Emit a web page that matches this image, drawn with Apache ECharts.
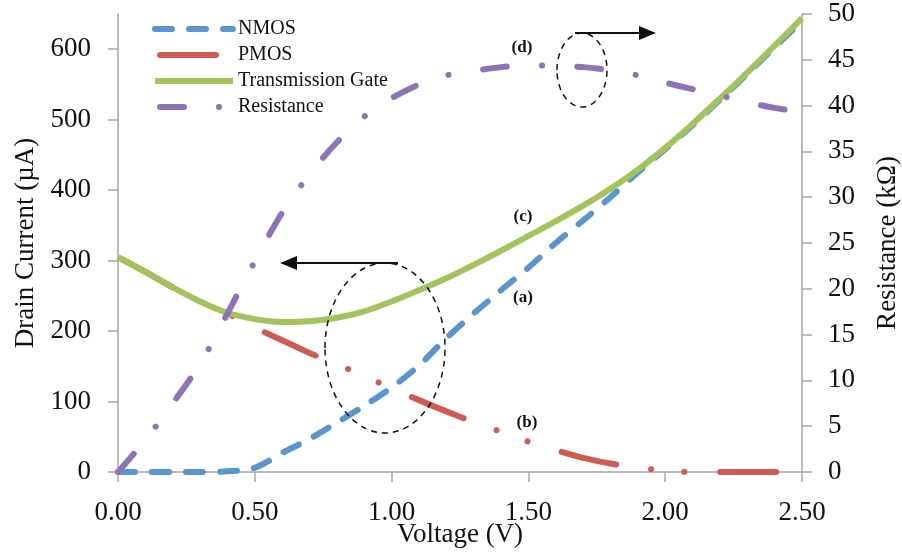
<!DOCTYPE html>
<html>
<head>
<meta charset="utf-8">
<script src="https://cdn.jsdelivr.net/npm/echarts@6/dist/echarts.min.js"></script>
<style>
  html, body { margin: 0; padding: 0; background: #fff; }
  #chart { width: 902px; height: 554px; }
</style>
</head>
<body>
<div id="chart"></div>
<script>
// voltage sweep (V)
var voltage = [0.0, 0.1, 0.2, 0.3, 0.4, 0.5, 0.6, 0.7, 0.8, 0.9, 1.0, 1.1, 1.2,
               1.3, 1.4, 1.5, 1.6, 1.7, 1.8, 1.9, 2.0, 2.1, 2.2, 2.3, 2.4, 2.5];

// drain currents (uA)
var nmos = [0, 0, 0, 0, 1, 6, 27, 47, 70, 94, 120, 151, 190,
            225, 258, 290, 325, 357, 390, 425, 458, 492, 528, 565, 603, 640];
var pmos = [305, 284, 262, 242, 225, 205, 187, 169, 153, 136, 119, 102, 86,
            71, 57, 43, 31, 20, 12, 6, 2, 0, 0, 0, 0, 0];
var tgate = [305, 284, 262, 242, 226, 217, 213, 214, 219, 228, 242, 258, 275,
             294, 314, 335, 356, 378, 402, 429, 460, 494, 530, 567, 605, 644];

// resistance (kOhm)
var resistance = [0, 3.5, 7.5, 11.8, 17.3, 23, 28.3, 32.5, 36, 38.8, 40.8, 42.3, 43.3,
                  43.8, 44.2, 44.4, 44.35, 44.2, 43.85, 43.3, 42.5, 41.8, 41.1, 40.35, 39.75, 39.3];

var currentTicks = [0, 100, 200, 300, 400, 500, 600];

function pairs(ys) {
  return voltage.map(function (v, i) { return [v, ys[i]]; });
}

var serif = 'Liberation Serif';
var axisGray = '#a6a6a6';
var labelFont = 'bold 17px "Liberation Serif"';

var chart = echarts.init(document.getElementById('chart'));

var option = {
  animation: false,
  grid: { left: 118, right: 100, top: 14, bottom: 82, outerBoundsMode: 'none' },
  legend: {
    orient: 'vertical',
    left: 147,
    top: 14,
    itemWidth: 78,
    itemHeight: 14,
    itemGap: 6,
    itemStyle: { opacity: 0 },
    lineStyle: { width: 6 },
    data: ['NMOS', 'PMOS', 'Transmission Gate', 'Resistance'],
    textStyle: { fontFamily: serif, fontSize: 20, color: '#111' }
  },
  xAxis: {
    type: 'value',
    min: 0,
    max: 2.5,
    interval: 0.5,
    name: 'Voltage (V)',
    nameLocation: 'middle',
    nameGap: 49,
    nameMoveOverlap: false,
    nameTextStyle: { fontFamily: serif, fontSize: 27, color: '#111' },
    axisLine: { lineStyle: { color: axisGray, width: 1.5 } },
    axisTick: { length: 10, lineStyle: { color: axisGray, width: 1.5 } },
    axisLabel: {
      fontFamily: serif, fontSize: 27, color: '#111', margin: 27,
      formatter: function (v) { return v.toFixed(2); }
    },
    splitLine: { show: false }
  },
  yAxis: [
    {
      type: 'value',
      min: 0,
      max: 650,
      name: 'Drain Current (\u00b5A)',
      nameLocation: 'middle',
      nameRotate: 90,
      nameGap: 78,
      nameTextStyle: { fontFamily: serif, fontSize: 27, color: '#111' },
      axisLine: { show: true, lineStyle: { color: axisGray, width: 1.5 } },
      axisTick: { show: true, length: 10, customValues: currentTicks, lineStyle: { color: axisGray, width: 1.5 } },
      axisLabel: { fontFamily: serif, fontSize: 27, color: '#111', margin: 27, customValues: currentTicks },
      splitLine: { show: false }
    },
    {
      type: 'value',
      min: 0,
      max: 50,
      interval: 5,
      position: 'right',
      name: 'Resistance (k\u03a9)',
      nameLocation: 'middle',
      nameRotate: 90,
      nameGap: 72,
      nameTextStyle: { fontFamily: serif, fontSize: 27, color: '#111' },
      axisLine: { show: true, lineStyle: { color: axisGray, width: 1.5 } },
      axisTick: { show: true, length: 10, lineStyle: { color: axisGray, width: 1.5 } },
      axisLabel: { fontFamily: serif, fontSize: 27, color: '#111', margin: 26 },
      splitLine: { show: false }
    }
  ],
  series: [
    {
      name: 'NMOS',
      type: 'line',
      yAxisIndex: 0,
      data: pairs(nmos),
      smooth: 0.3,
      symbol: 'none',
      color: '#5a95cf',
      lineStyle: { color: '#5a95cf', width: 6, type: [17, 17], cap: 'round' }
    },
    {
      name: 'PMOS',
      type: 'line',
      yAxisIndex: 0,
      data: pairs(pmos),
      smooth: 0.3,
      symbol: 'none',
      color: '#cf5b55',
      lineStyle: { color: '#cf5b55', width: 6, type: [56, 35, 0.1, 33, 0.1, 36], dashOffset: -5, cap: 'round' }
    },
    {
      name: 'Transmission Gate',
      type: 'line',
      yAxisIndex: 0,
      data: pairs(tgate),
      smooth: 0.3,
      symbol: 'none',
      color: '#a3c35c',
      lineStyle: { color: '#a3c35c', width: 6 }
    },
    {
      name: 'Resistance',
      type: 'line',
      yAxisIndex: 1,
      data: pairs(resistance),
      smooth: 0.3,
      symbol: 'none',
      color: '#8e73b6',
      lineStyle: { color: '#8e73b6', width: 6, type: [24, 35, 0.1, 35], cap: 'round' }
    }
  ],
  graphic: [
    // annotations: ellipses, arrows and labels
    { type: 'ellipse', shape: { cx: 385, cy: 348, rx: 60, ry: 85 },
      style: { fill: 'none', stroke: '#111', lineWidth: 1.5, lineDash: [6, 5] }, z: 10 },
    { type: 'ellipse', shape: { cx: 582, cy: 70, rx: 25, ry: 37 },
      style: { fill: 'none', stroke: '#111', lineWidth: 1.5, lineDash: [6, 5] }, z: 10 },
    { type: 'line', shape: { x1: 398, y1: 263, x2: 292, y2: 263 },
      style: { stroke: '#111', lineWidth: 2 }, z: 10 },
    { type: 'polygon', shape: { points: [[280, 263], [297, 256], [297, 270]] },
      style: { fill: '#111' }, z: 10 },
    { type: 'line', shape: { x1: 575, y1: 33, x2: 645, y2: 33 },
      style: { stroke: '#111', lineWidth: 2 }, z: 10 },
    { type: 'polygon', shape: { points: [[656, 33], [639, 26], [639, 40]] },
      style: { fill: '#111' }, z: 10 },
    { type: 'text', x: 522, y: 48, z: 10,
      style: { text: '(d)', font: labelFont, fill: '#111', align: 'center', verticalAlign: 'middle' } },
    { type: 'text', x: 523, y: 217, z: 10,
      style: { text: '(c)', font: labelFont, fill: '#111', align: 'center', verticalAlign: 'middle' } },
    { type: 'text', x: 523, y: 298, z: 10,
      style: { text: '(a)', font: labelFont, fill: '#111', align: 'center', verticalAlign: 'middle' } },
    { type: 'text', x: 527, y: 423, z: 10,
      style: { text: '(b)', font: labelFont, fill: '#111', align: 'center', verticalAlign: 'middle' } }
  ]
};

chart.setOption(option);
</script>
</body>
</html>
